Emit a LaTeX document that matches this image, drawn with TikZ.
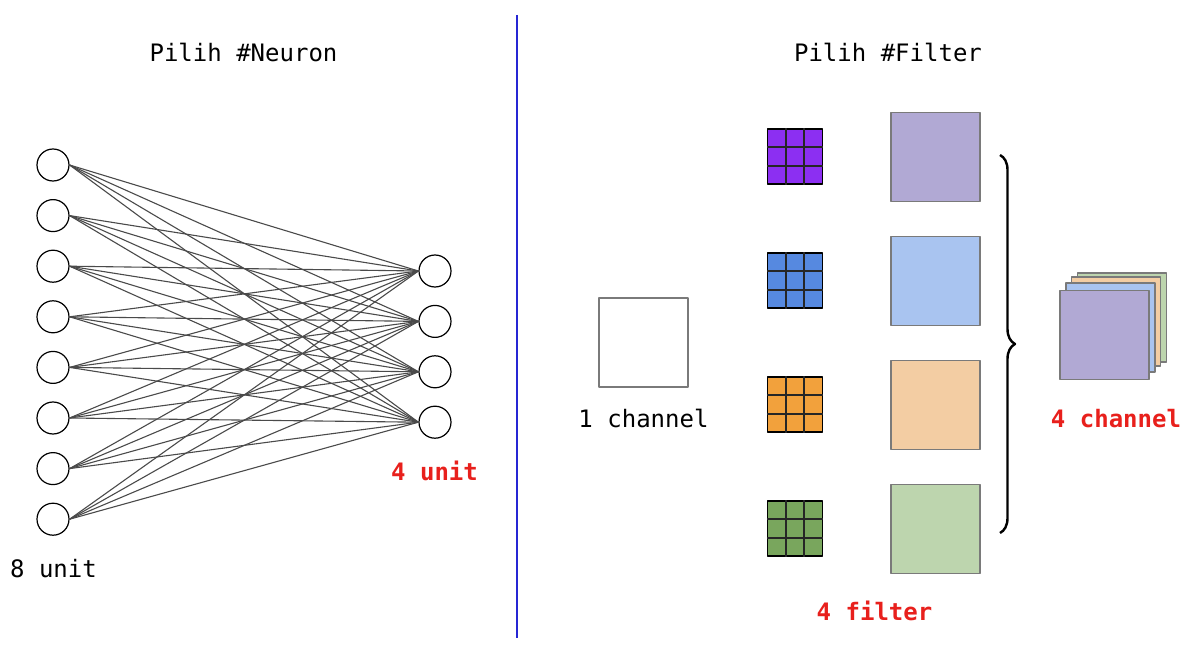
\documentclass[tikz,border=0pt]{standalone}
\usepackage{fontspec}
\setmonofont{DejaVu Sans Mono}
\usetikzlibrary{decorations.pathreplacing}
\definecolor{linkgray}{HTML}{4A4A4A}
\definecolor{mapgray}{HTML}{7A7A7A}
\definecolor{divblue}{HTML}{2626D4}
\definecolor{hotred}{HTML}{E8201C}
\definecolor{kpurple}{HTML}{8C2FF2}
\definecolor{kblue}{HTML}{5689E0}
\definecolor{korange}{HTML}{F2A13C}
\definecolor{kgreen}{HTML}{79A65D}
\definecolor{mpurple}{HTML}{B1A9D4}
\definecolor{mblue}{HTML}{A9C4F0}
\definecolor{morange}{HTML}{F3CDA3}
\definecolor{mgreen}{HTML}{BDD5AE}
\begin{document}
\begin{tikzpicture}[x=1pt,y=-1pt,line join=round,font=\ttfamily\fontsize{24}{28}\selectfont,
    neuron/.style={circle,draw,line width=1.2pt,minimum size=32pt,inner sep=0pt},
    link/.style={draw=linkgray,line width=1.1pt},
    map/.style={draw=mapgray,line width=1.3pt,minimum size=89pt,inner sep=0pt},
    kernel/.style={draw=black,line width=1.5pt,minimum size=55pt,inner sep=0pt},
    label/.style={anchor=base,inner sep=0pt},
    hot/.style={label,text=hotred,font=\ttfamily\bfseries\fontsize{24}{28}\selectfont}]
    \useasboundingbox (0,0) rectangle (1200,655);
    % neurons
    \foreach \i in {1,...,8} \node[neuron] (in\i) at (53,{165+50.6*(\i-1)}) {};
    \foreach \j in {1,...,4} \node[neuron] (out\j) at (435,{271+50.4*(\j-1)}) {};
    \foreach \i in {1,...,8} \foreach \j in {1,...,4} \draw[link] (in\i.east) -- (out\j.west);
    \node[label] (tnn) at (243.5,62) {Pilih \#Neuron};
    \node[label] (lin) at (53.5,577) {8 unit};
    \node[hot] (lout) at (434.5,480) {4 unit};
    %\draw (0,0) -- (1200,655);
    \draw[divblue,line width=2pt] (517,15) -- (517,638);
    % filters
    \node[label] (tcnn) at (888,62) {Pilih \#Filter};
    \node[map,draw=mapgray,fill=white] (inp) at (643.5,342.5) {};
    \node[label] (linp) at (643.5,427) {1 channel};
    \foreach \k/\y/\kc/\mc in {1/156.5/kpurple/mpurple,2/280.5/kblue/mblue,3/404.5/korange/morange,4/528.5/kgreen/mgreen}{
        \node[kernel,fill=\kc] (k\k) at (795,\y) {};
        \draw[line width=1.7pt,black!85]
        ([xshift=-9.17pt]k\k.north) -- ([xshift=-9.17pt]k\k.south)
        ([xshift=9.17pt]k\k.north) -- ([xshift=9.17pt]k\k.south)
        ([yshift=-9.17pt]k\k.west) -- ([yshift=-9.17pt]k\k.east)
        ([yshift=9.17pt]k\k.west) -- ([yshift=9.17pt]k\k.east);
        \node[map,fill=\mc] (m\k) at (935.5,\y+0.5) {};
    }
    \node[hot] (lk) at (874.5,620) {4 filter};
    \coordinate (bt) at (1000,155);
    \coordinate (bb) at (1000,533);
    \draw[line width=2.4pt,decorate,decoration={brace,amplitude=15pt}] (bt) -- (bb);
    % output stack
    \node[map,fill=mgreen] (s4) at (1122,317.5) {};
    \node[map,fill=morange] (s3) at (1116,321.5) {};
    \node[map,fill=mblue] (s2) at (1110.5,327.5) {};
    \node[map,fill=mpurple] (s1) at (1104.5,335) {};
    \node[hot] (lout2) at (1116,427) {4 channel};
\end{tikzpicture}
\end{document}
